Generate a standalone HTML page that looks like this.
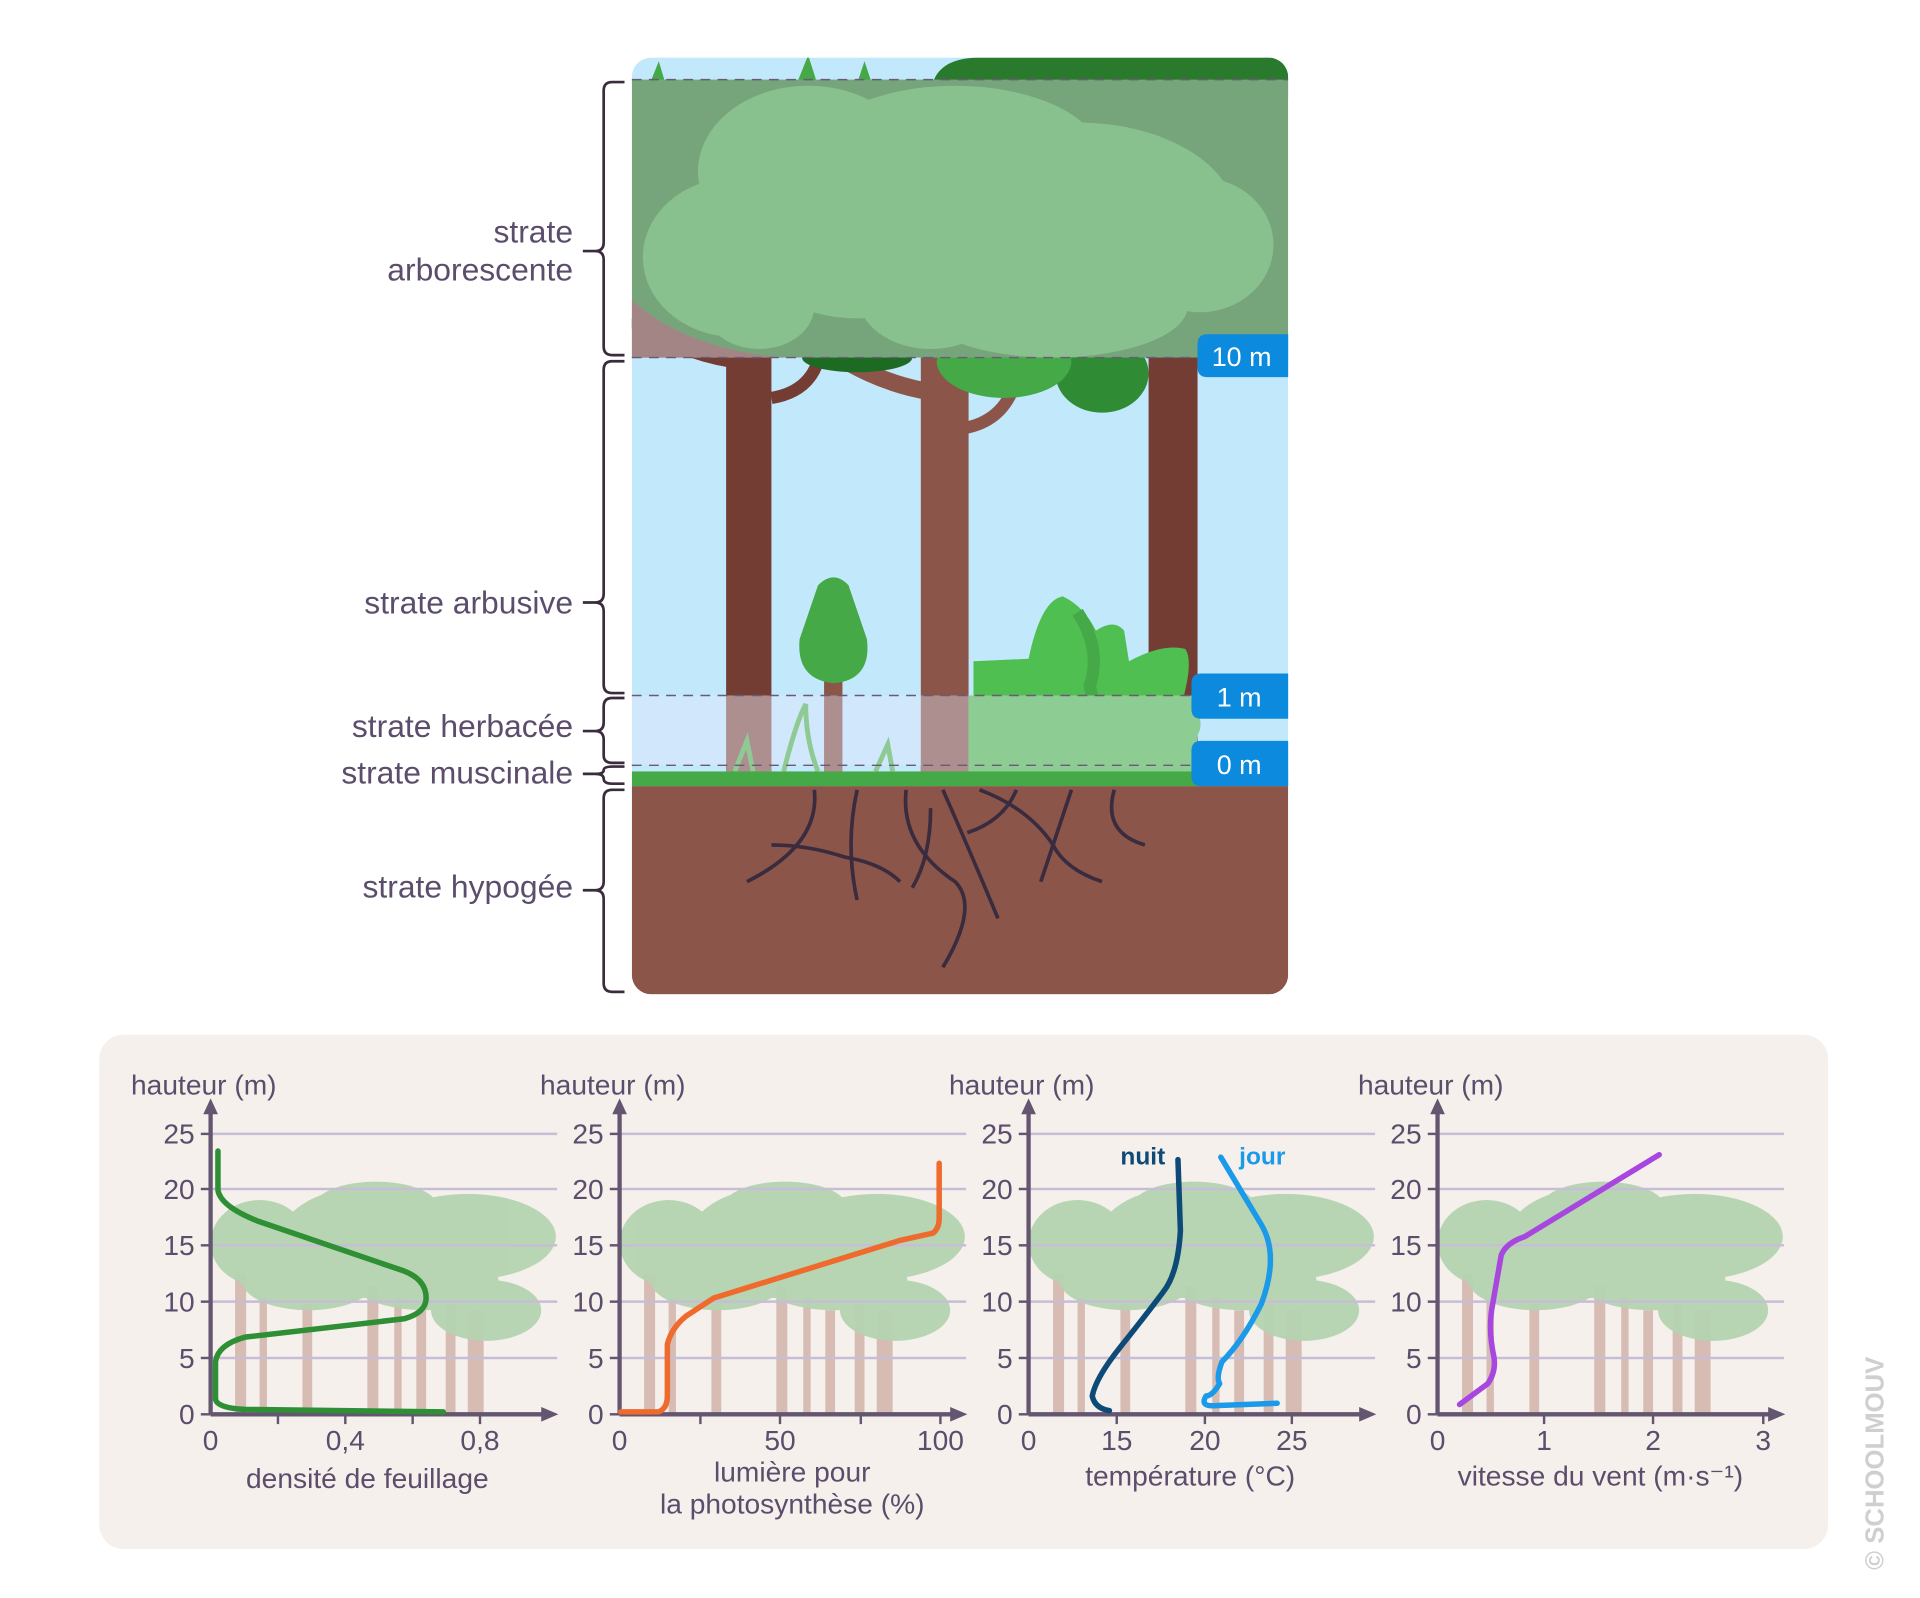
<!DOCTYPE html>
<html><head><meta charset="utf-8"><style>
html,body{margin:0;padding:0;background:#fff;width:1920px;height:1598px;overflow:hidden}
svg{display:block}
text{font-family:"Liberation Sans Narrow","Liberation Sans",sans-serif;fill:#5b4d6b}
</style></head><body>
<svg width="1920" height="1598" viewBox="0 0 1568 1305" xmlns="http://www.w3.org/2000/svg">
<defs>
<clipPath id="pc"><rect x="516" y="47" width="536" height="765" rx="16"/></clipPath>
<g id="bgt">
  <g fill="#d6bcb3">
    <rect x="20" y="1040" width="9" height="115"/><rect x="40" y="1060" width="6" height="95"/>
    <rect x="75" y="1065" width="8" height="90"/><rect x="128" y="1050" width="9" height="105"/>
    <rect x="150" y="1060" width="6" height="95"/><rect x="168" y="1070" width="8" height="85"/>
    <rect x="192" y="1065" width="8" height="90"/><rect x="210" y="1070" width="13" height="85"/>
  </g>
  <g fill="#b5d4b1" opacity="0.95">
    <ellipse cx="40" cy="1015" rx="40" ry="35"/><ellipse cx="125" cy="1015" rx="70" ry="45"/>
    <ellipse cx="210" cy="1010" rx="72" ry="35"/><ellipse cx="80" cy="1045" rx="55" ry="25"/>
    <ellipse cx="175" cy="1045" rx="60" ry="25"/><ellipse cx="225" cy="1070" rx="45" ry="25"/>
    <ellipse cx="135" cy="985" rx="50" ry="20"/>
  </g>
</g>
</defs>

<g clip-path="url(#pc)">
  <rect x="516" y="47" width="536" height="765" fill="#c2e8fb"/>
  <path d="M760 80 Q760 47 800 47 L1052 47 L1052 80 Z" fill="#2a7a2e"/>
  <path d="M530 70 l8 -20 6 20 M650 70 l10 -25 8 25 M700 68 l6 -18 6 18" fill="#44a946"/>
  <rect x="593" y="290" width="37" height="345" fill="#733d34"/>
  <rect x="752" y="290" width="39" height="345" fill="#8b5649"/>
  <rect x="938" y="290" width="40" height="345" fill="#733d34"/>
  <path d="M630 325 Q660 320 668 295" stroke="#733d34" stroke-width="10" fill="none"/>
  <path d="M785 350 Q820 345 830 310" stroke="#8b5649" stroke-width="10" fill="none"/>
  <path d="M516 260 Q560 290 610 295" stroke="#733d34" stroke-width="14" fill="none"/>
  <path d="M650 265 Q700 310 760 320" stroke="#8b5649" stroke-width="14" fill="none"/>
  <ellipse cx="900" cy="305" rx="38" ry="32" fill="#2f8c34"/>
  <ellipse cx="820" cy="295" rx="55" ry="30" fill="#44a946"/>
  <ellipse cx="700" cy="292" rx="45" ry="12" fill="#1d6b22"/>
  <rect x="516" y="65" width="536" height="227" fill="#76a57c"/>
  <path d="M516 245 Q560 285 640 292 L516 292 Z" fill="#a48585"/>
  <g fill="#88c08e">
    <ellipse cx="660" cy="140" rx="90" ry="70"/><ellipse cx="780" cy="130" rx="120" ry="60"/>
    <ellipse cx="600" cy="210" rx="75" ry="65"/><ellipse cx="880" cy="180" rx="130" ry="80"/>
    <ellipse cx="980" cy="200" rx="60" ry="55"/><ellipse cx="760" cy="240" rx="60" ry="45"/>
    <ellipse cx="860" cy="250" rx="110" ry="42"/><ellipse cx="700" cy="200" rx="90" ry="60"/>
  </g>
  <ellipse cx="620" cy="250" rx="45" ry="35" fill="#88c08e"/>
  <rect x="673" y="550" width="15" height="85" fill="#8b5649"/>
  <path d="M668 478 Q681 465 693 478 L708 522 Q712 555 681 558 Q650 555 653 522 Z" fill="#44a946"/>
  <path d="M795 540 L840 538 Q850 490 868 487 Q885 495 895 515 Q910 505 918 515 L922 540 Q950 525 968 530 Q975 540 965 575 L975 600 Q980 625 960 632 L795 632 Z" fill="#4fbf52"/>
  <path d="M880 500 Q900 530 890 560 L905 630" stroke="#44a946" stroke-width="10" fill="none"/>
  <rect x="516" y="568" width="460" height="57" fill="#d3e7fb" opacity="0.85"/>
  <rect x="593" y="568" width="37" height="64" fill="#ae8f8f"/>
  <rect x="673" y="568" width="15" height="64" fill="#ae8f8f"/>
  <rect x="752" y="568" width="39" height="66" fill="#ae8f8f"/>
  <path d="M791 568 L972 568 Q985 590 978 600 L975 632 L791 632 Z" fill="#8dcd93"/>
  <path d="M600 630 l10 -25 5 25 M640 630 q10 -40 18 -55 q0 30 10 55 M715 630 l10 -22 4 22" stroke="#8fc994" stroke-width="4" fill="none"/>
  <rect x="516" y="630" width="536" height="12" fill="#44a946"/>
  <rect x="516" y="642" width="536" height="170" fill="#8b5649"/>
  <g stroke="#3a2b3f" stroke-width="3" fill="none">
    <path d="M665 645 Q670 690 610 720 M630 690 Q660 690 690 700 Q720 705 735 720"/>
    <path d="M700 645 Q690 690 700 735 M740 645 Q735 690 780 720 Q800 740 770 790"/>
    <path d="M770 645 Q790 690 815 750 M800 645 Q840 660 860 690 Q870 710 900 720"/>
    <path d="M830 645 Q820 670 790 680 M910 645 Q900 680 935 690 M875 645 Q860 690 850 720"/>
    <path d="M760 660 Q760 700 745 725"/>
  </g>
</g>
<g stroke="#6b5a75" stroke-width="1.2" stroke-dasharray="8 6">
  <line x1="516" y1="65" x2="1052" y2="65"/><line x1="516" y1="292" x2="980" y2="292"/>
  <line x1="516" y1="568" x2="975" y2="568"/><line x1="516" y1="625" x2="975" y2="625"/>
</g>
<g fill="#0b8ade">
  <path d="M986 273 H1052 V308 H986 Q978 308 978 300 V281 Q978 273 986 273Z"/>
  <path d="M981 550 H1052 V587 H981 Q973 587 973 579 V558 Q973 550 981 550Z"/>
  <path d="M981 605 H1052 V642 H981 Q973 642 973 634 V613 Q973 605 981 605Z"/>
</g>
<g font-size="22" text-anchor="middle">
  <text x="1014" y="299" style="fill:#fff;font-family:'Liberation Sans',sans-serif">10 m</text>
  <text x="1012" y="577" style="fill:#fff;font-family:'Liberation Sans',sans-serif">1 m</text>
  <text x="1012" y="632" style="fill:#fff;font-family:'Liberation Sans',sans-serif">0 m</text>
</g>
<g stroke="#3a2b3f" stroke-width="2.2" fill="none">
  <path d="M510 67 H500 Q493 67 493 74 V198 Q493 205 486 205 H476 M486 205 Q493 205 493 212 V283 Q493 290 500 290 H510"/>
  <path d="M510 295 H500 Q493 295 493 302 V485 Q493 492 486 492 H476 M486 492 Q493 492 493 499 V559 Q493 566 500 566 H510"/>
  <path d="M510 570 H500 Q493 570 493 577 V590 Q493 597 486 597 H476 M486 597 Q493 597 493 604 V617 Q493 623 500 623 H510"/>
  <path d="M510 626 H500 Q493 626 493 629 Q493 632 486 632 H476 M486 632 Q493 632 493 636 Q493 640 500 640 H510"/>
  <path d="M510 645 H500 Q493 645 493 652 V720 Q493 727 486 727 H476 M486 727 Q493 727 493 734 V803 Q493 810 500 810 H510"/>
</g>
<g font-size="26" text-anchor="end">
  <text x="468" y="198" style="font-family:'Liberation Sans',sans-serif">strate</text>
  <text x="468" y="229" style="font-family:'Liberation Sans',sans-serif">arborescente</text>
  <text x="468" y="501" style="font-family:'Liberation Sans',sans-serif">strate arbusive</text>
  <text x="468" y="602" style="font-family:'Liberation Sans',sans-serif">strate herbacée</text>
  <text x="468" y="640" style="font-family:'Liberation Sans',sans-serif">strate muscinale</text>
  <text x="468" y="733" style="font-family:'Liberation Sans',sans-serif">strate hypogée</text>
</g>

<rect x="81" y="845" width="1412" height="420" rx="20" fill="#f5f0ec"/>
<use href="#bgt" x="172"/><use href="#bgt" x="506"/><use href="#bgt" x="840"/><use href="#bgt" x="1174"/>

<g id="axes">
  <g stroke="#c7bdd6" stroke-width="2">
    <line x1="172" y1="926" x2="455" y2="926"/><line x1="172" y1="971" x2="455" y2="971"/>
    <line x1="172" y1="1017" x2="455" y2="1017"/><line x1="172" y1="1063" x2="455" y2="1063"/>
    <line x1="172" y1="1109" x2="455" y2="1109"/>
  </g>
  <g stroke="#645570" stroke-width="3.5">
    <line x1="172" y1="1155" x2="172" y2="905"/><line x1="172" y1="1155" x2="445" y2="1155"/>
  </g>
  <path d="M166 910 L172 897 L178 910Z M442 1149 L456 1155 L442 1161Z" fill="#645570"/>
  <g stroke="#645570" stroke-width="2">
    <line x1="164" y1="926" x2="172" y2="926"/><line x1="164" y1="971" x2="172" y2="971"/>
    <line x1="164" y1="1017" x2="172" y2="1017"/><line x1="164" y1="1063" x2="172" y2="1063"/>
    <line x1="164" y1="1109" x2="172" y2="1109"/><line x1="164" y1="1155" x2="172" y2="1155"/>
  </g>
  <g font-size="23" text-anchor="end">
    <text x="159" y="934">25</text><text x="159" y="979">20</text><text x="159" y="1025">15</text>
    <text x="159" y="1071">10</text><text x="159" y="1117">5</text><text x="159" y="1163">0</text>
  </g>
  <text x="107" y="894" font-size="23">hauteur (m)</text>
</g>
<use href="#axes" x="334"/><use href="#axes" x="668"/><use href="#axes" x="1002"/>

<g stroke="#645570" stroke-width="2">
  <line x1="227" y1="1155" x2="227" y2="1163"/><line x1="282" y1="1155" x2="282" y2="1163"/>
  <line x1="337" y1="1155" x2="337" y2="1163"/><line x1="392" y1="1155" x2="392" y2="1163"/>
  <line x1="572" y1="1155" x2="572" y2="1163"/><line x1="637" y1="1155" x2="637" y2="1163"/>
  <line x1="703" y1="1155" x2="703" y2="1163"/><line x1="768" y1="1155" x2="768" y2="1163"/>
  <line x1="912" y1="1155" x2="912" y2="1163"/><line x1="984" y1="1155" x2="984" y2="1163"/>
  <line x1="1055" y1="1155" x2="1055" y2="1163"/>
  <line x1="1261" y1="1155" x2="1261" y2="1163"/><line x1="1350" y1="1155" x2="1350" y2="1163"/>
  <line x1="1440" y1="1155" x2="1440" y2="1163"/>
</g>
<g font-size="23" text-anchor="middle">
  <text x="172" y="1184">0</text><text x="282" y="1184">0,4</text><text x="392" y="1184">0,8</text>
  <text x="506" y="1184">0</text><text x="637" y="1184">50</text><text x="768" y="1184">100</text>
  <text x="840" y="1184">0</text><text x="912" y="1184">15</text><text x="984" y="1184">20</text><text x="1055" y="1184">25</text>
  <text x="1174" y="1184">0</text><text x="1261" y="1184">1</text><text x="1350" y="1184">2</text><text x="1440" y="1184">3</text>
  <text x="300" y="1215">densité de feuillage</text>
  <text x="647" y="1210">lumière pour</text><text x="647" y="1236">la photosynthèse (%)</text>
  <text x="972" y="1213">température (°C)</text>
  <text x="1307" y="1213">vitesse du vent (m·s⁻¹)</text>
</g>

<g fill="none" stroke-width="4.5" stroke-linecap="round" stroke-linejoin="round">
  <path stroke="#2e8f35" d="M178 940 L178 972 Q180 985 210 997 L330 1038 Q348 1045 348 1060 Q348 1072 330 1077 L200 1092 Q178 1098 176 1112 L176 1143 Q178 1150 200 1151 L362 1153"/>
  <path stroke="#ef6a2d" d="M507 1153 L538 1153 Q545 1150 545 1140 L545 1098 Q548 1085 560 1075 L583 1060 L735 1013 L762 1007 Q767 1003 767 995 L767 950"/>
  <path stroke="#0d4a78" d="M962 947 L964 1005 Q962 1040 950 1055 Q935 1075 915 1100 Q895 1125 892 1140 Q894 1150 906 1152"/>
  <path stroke="#1a9ae8" d="M997 945 Q1015 975 1030 1000 Q1045 1025 1030 1065 Q1015 1095 998 1112 Q993 1125 996 1130 Q990 1140 985 1140 Q980 1148 990 1148 L1043 1146"/>
  <path stroke="#a846e0" d="M1192 1147 L1215 1130 Q1222 1120 1220 1108 Q1215 1085 1219 1065 L1226 1025 Q1230 1015 1245 1010 L1355 943"/>
</g>
<text x="915" y="951" font-size="20" font-weight="bold" style="fill:#0d4a78">nuit</text>
<text x="1012" y="951" font-size="20" font-weight="bold" style="fill:#1a9ae8">jour</text>

<text x="0" y="0" font-size="21" font-weight="bold" transform="translate(1538,1282) rotate(-90)" style="fill:#cfcfcf;font-family:'Liberation Sans',sans-serif">© SCHOOLMOUV</text>
</svg>
</body></html>
